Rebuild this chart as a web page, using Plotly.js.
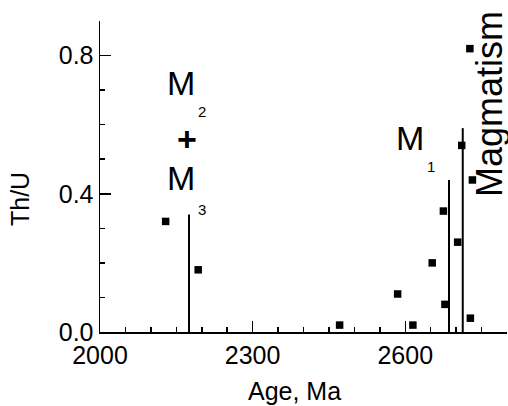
<!DOCTYPE html>
<html>
<head>
<meta charset="utf-8">
<script src="https://cdn.plot.ly/plotly-3.0.1.min.js"></script>
<style>html,body{margin:0;padding:0;background:#fff;}#chart{width:508px;height:406px;}</style>
</head>
<body>
<div id="chart"></div>
<script>
// Data
var ages = [2129, 2193, 2471, 2585, 2615, 2653, 2675, 2678, 2703, 2711, 2728, 2732, 2727];
var thu  = [0.32, 0.18, 0.02, 0.11, 0.02, 0.20, 0.35, 0.08, 0.26, 0.54, 0.04, 0.44, 0.82];
var eventAges = [2175, 2686, 2713];
var eventTops = [0.34, 0.44, 0.59];
var xTickVals = [2000, 2300, 2600];
var yTickVals = [0.0, 0.4, 0.8];
var yTickText = ["0.0", "0.4", "0.8"];

var lx = [], ly = [];
for (var i = 0; i < eventAges.length; i++) {
  lx.push(eventAges[i], eventAges[i], null);
  ly.push(0, eventTops[i], null);
}

var W = 508, H = 406;
var mL = 100, mR = 1, mT = 21, mB = 74;
function px(x) { return (x - mL) / (W - mL - mR); }
function py(y) { return (H - mB - y) / (H - mT - mB); }

var FONT = "Liberation Sans, Arial, sans-serif";

function ann(text, x, y, size, extra) {
  var a = {text: text, xref: 'paper', yref: 'paper', x: px(x), y: py(y),
    xanchor: 'center', yanchor: 'middle', showarrow: false,
    font: {family: FONT, size: size, color: '#000'}};
  for (var k in extra) a[k] = extra[k];
  return a;
}

var traces = [
  {x: lx, y: ly, mode: 'lines', line: {color: '#000', width: 2}, hoverinfo: 'skip', showlegend: false},
  {x: ages, y: thu, mode: 'markers', marker: {symbol: 'square', size: 7.5, color: '#000'}, showlegend: false}
];

var axisCommon = {
  showgrid: false, zeroline: false, showline: true, linecolor: '#000', linewidth: 1.5,
  ticks: 'inside', ticklen: 11, tickwidth: 1.5, tickcolor: '#000',
  tickfont: {family: FONT, size: 25, color: '#000'}
};

var layout = {
  width: W, height: H,
  margin: {l: mL, r: mR, t: mT, b: mB, pad: 0},
  paper_bgcolor: '#fff', plot_bgcolor: '#fff',
  xaxis: Object.assign({}, axisCommon, {
    range: [2000, 2800], tickmode: 'array', tickvals: xTickVals,
    minor: {dtick: 50, tick0: 2000, ticks: 'inside', ticklen: 5, tickwidth: 1.5, tickcolor: '#000', showgrid: false}
  }),
  yaxis: Object.assign({}, axisCommon, {
    range: [0, 0.9], tickmode: 'array', tickvals: yTickVals, ticktext: yTickText,
    minor: {dtick: 0.1, tick0: 0, ticks: 'inside', ticklen: 5, tickwidth: 1.5, tickcolor: '#000', showgrid: false}
  }),
  annotations: [
    ann('M', 181, 82.5, 34),
    ann('2', 201.7, 112, 15),
    ann('+', 187, 139, 34, {font: {family: FONT, size: 34, color: '#000', weight: 'bold'}}),
    ann('M', 181, 178.3, 34),
    ann('3', 201.7, 209, 15),
    ann('M', 410, 137.5, 34),
    ann('1', 430.5, 166, 15),
    ann('Magmatism', 489, 104, 36, {textangle: -90}),
    ann('Age, Ma', 294, 391, 25),
    ann('Th/U', 20, 199, 25, {textangle: -90})
  ]
};

Plotly.newPlot('chart', traces, layout, {displayModeBar: false, staticPlot: true});
</script>
</body>
</html>
